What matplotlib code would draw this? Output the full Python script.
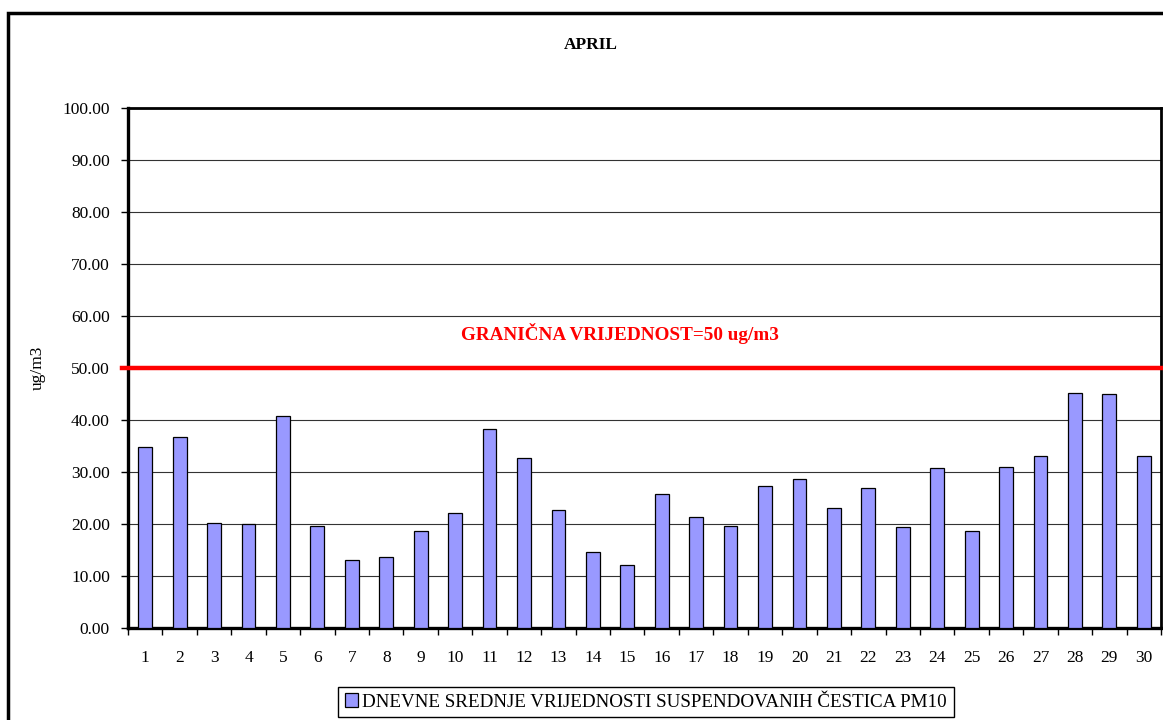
import matplotlib.pyplot as plt
from matplotlib.patches import Rectangle
import numpy as np

## data
days = [str(d) for d in range(1, 31)]
pm10 = [34.8, 36.7, 20.1, 20.0, 40.8, 19.7, 13.1, 13.6, 18.7, 22.2,
        38.3, 32.7, 22.7, 14.6, 12.2, 25.7, 21.3, 19.7, 27.3, 28.7,
        23.1, 26.9, 19.4, 30.8, 18.7, 31.0, 33.1, 45.2, 45.0, 33.1]
limit_value = 50
yticks = np.arange(0, 101, 10)

plt.rcParams['font.family'] = ['Liberation Serif', 'DejaVu Serif']

fig = plt.figure(figsize=(11.63, 7.2), dpi=100)
ax = fig.add_axes([128/1163, 92/720, 1033/1163, 520/720])

## outer frame of chart area
fig.patches.append(Rectangle((8/1163, -0.1), 1.2, 707/720 + 0.1, transform=fig.transFigure,
                             fill=False, edgecolor='k', lw=2.5, zorder=0))

x = np.arange(1, len(pm10) + 1)
ax.bar(x, pm10, width=0.4, color='#9999FF', edgecolor='k', lw=0.9, zorder=3,
       label='DNEVNE SREDNJE VRIJEDNOSTI SUSPENDOVANIH ČESTICA PM10')

ax.axhline(limit_value, xmin=-0.006, xmax=1, color='red', lw=3.2, zorder=4, clip_on=False)
ax.text(14.8, 56.7, 'GRANIČNA VRIJEDNOST=50 ug/m3', color='red', fontweight='bold',
        fontsize=13.8, ha='center', va='center')

## axes formatting
ax.set_xlim(0.5, 30.5)
ax.set_ylim(0, 100)
ax.set_yticks(yticks)
ax.set_yticklabels(['%.2f' % v for v in yticks], fontsize=12.5)
ax.set_xticks(x)
ax.set_xticklabels(days, fontsize=12.5)
ax.set_xticks(np.arange(0.5, 31, 1), minor=True)
ax.tick_params(axis='x', which='major', length=0, pad=16)
ax.tick_params(axis='x', which='minor', length=5, width=1, direction='out')
ax.tick_params(axis='y', length=5, width=1, direction='out', pad=8)
ax.grid(axis='y', color='#333333', lw=0.8, zorder=1)
ax.set_axisbelow(True)
for s in ['left', 'bottom']:
    ax.spines[s].set_linewidth(2.4)
for s in ['top', 'right']:
    ax.spines[s].set_linewidth(2.0)
ax.set_ylabel('ug/m3', fontsize=12.5, labelpad=12)

fig.text(591/1163, 1 - 45/720, 'APRIL', fontweight='bold', fontsize=12.5, ha='center', va='center')

leg = fig.legend(loc='center', bbox_to_anchor=(646/1163, 18/720), fontsize=13.7,
                 fancybox=False, edgecolor='k', framealpha=1, handlelength=0.7,
                 handleheight=0.7, handletextpad=0.2, borderpad=0.35, borderaxespad=0)
leg.get_frame().set_linewidth(1.0)

fig.savefig('out.png', dpi=100)
